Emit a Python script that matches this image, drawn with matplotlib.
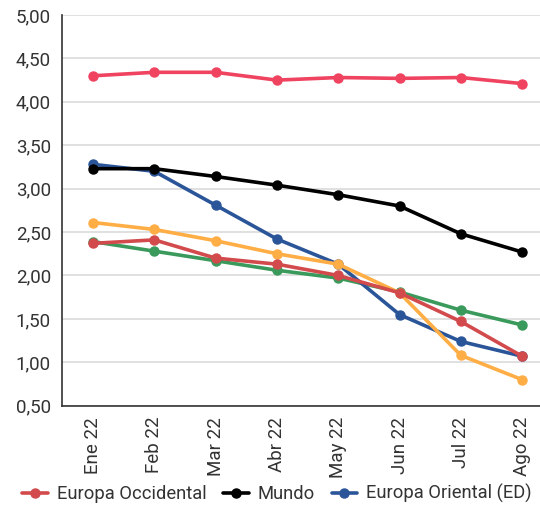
import matplotlib.pyplot as plt
from matplotlib.ticker import FuncFormatter

plt.rcParams['font.family'] = ['Roboto', 'DejaVu Sans']

meses = ["Ene 22", "Feb 22", "Mar 22", "Abr 22", "May 22", "Jun 22", "Jul 22", "Ago 22"]

rosa = [4.30, 4.34, 4.34, 4.25, 4.28, 4.27, 4.28, 4.21]
mundo = [3.23, 3.23, 3.14, 3.04, 2.93, 2.80, 2.48, 2.27]
europa_oriental = [3.28, 3.20, 2.81, 2.42, 2.13, 1.55, 1.24, 1.07]
naranja = [2.61, 2.53, 2.40, 2.25, 2.13, 1.80, 1.08, 0.80]
europa_occidental = [2.37, 2.41, 2.20, 2.13, 2.00, 1.80, 1.47, 1.07]
verde = [2.39, 2.28, 2.17, 2.06, 1.97, 1.81, 1.60, 1.43]

fig = plt.figure(figsize=(5.40, 5.07), dpi=100)
ax = fig.add_axes([0.1148, 0.1998, 0.885, 0.7706])

x = range(len(meses))
estilo = dict(lw=2.6, marker='o', markersize=6.5, solid_capstyle='round')

ax.plot(x, rosa, color='#ef4360', zorder=3, **estilo)
ax.plot(x, verde, color='#3a9a5c', zorder=3, **estilo)
ax.plot(x, europa_oriental, color='#2b5599', zorder=3, label='Europa Oriental (ED)', **estilo)
ax.plot(x, naranja, color='#ffad45', zorder=3, **estilo)
ax.plot(x, mundo, color='#000000', zorder=3, label='Mundo', **estilo)
ax.plot(x, europa_occidental, color='#d24a4c', zorder=3, label='Europa Occidental', **estilo)

ax.set_xlim(-0.506, 7.29)
ax.set_ylim(0.5, 5.0)
ax.set_yticks([0.5 + 0.5 * i for i in range(10)])
ax.yaxis.set_major_formatter(FuncFormatter(lambda v, p: f"{v:.2f}".replace('.', ',')))
ax.set_xticks(list(x))
ax.set_xticklabels(meses, rotation=90)

ax.tick_params(axis='both', length=0, labelsize=13.5, colors='#333333')
ax.tick_params(axis='y', pad=8)
ax.tick_params(axis='x', pad=8)
ax.grid(axis='y', color='#dddddd', lw=1.3)
ax.set_axisbelow(True)
for s in ['top', 'right']:
    ax.spines[s].set_visible(False)
for s in ['left', 'bottom']:
    ax.spines[s].set_color('#333333')
    ax.spines[s].set_linewidth(1.2)

h, l = ax.get_legend_handles_labels()
orden = [l.index('Europa Occidental'), l.index('Mundo'), l.index('Europa Oriental (ED)')]
fig.legend([h[i] for i in orden], [l[i] for i in orden], loc='center', ncol=3,
           bbox_to_anchor=(0.513, 0.026), frameon=False, fontsize=13.2,
           handlelength=1.4, handletextpad=0.5, columnspacing=0.9, labelcolor='#333333')

fig.savefig('out.png', dpi=100)
